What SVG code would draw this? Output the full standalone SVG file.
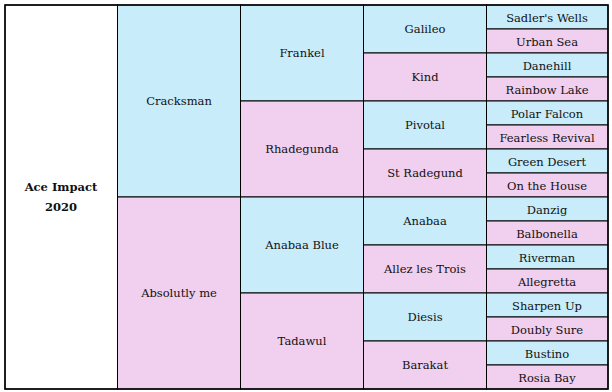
<svg xmlns="http://www.w3.org/2000/svg" width="612" height="392" viewBox="0 0 612 392">
<style>
.b{fill:#C8ECFA;stroke:#000;stroke-width:1}
.p{fill:#F1CFEF;stroke:#000;stroke-width:1}
.w{fill:#fff;stroke:#000;stroke-width:1}
text{font-family:"DejaVu Serif","Liberation Serif",serif;font-size:11.5px;fill:#111;text-anchor:middle}
.bold{font-weight:bold}
</style>
<rect x="0" y="0" width="612" height="392" fill="#fff"/>
<g id="n0"><rect class="w" x="5" y="5" width="112.5" height="384"/><text class="bold" x="61" y="191">Ace Impact</text><text class="bold" x="61" y="211">2020</text></g>
<g id="n1"><rect class="b" x="117.5" y="5" width="123" height="192"/><text x="179" y="105">Cracksman</text></g>
<g id="n2"><rect class="p" x="117.5" y="197" width="123" height="192"/><text x="179" y="297">Absolutly me</text></g>
<g id="n3"><rect class="b" x="240.5" y="5" width="123" height="96"/><text x="302" y="57">Frankel</text></g>
<g id="n4"><rect class="p" x="240.5" y="101" width="123" height="96"/><text x="302" y="153">Rhadegunda</text></g>
<g id="n5"><rect class="b" x="240.5" y="197" width="123" height="96"/><text x="302" y="249">Anabaa Blue</text></g>
<g id="n6"><rect class="p" x="240.5" y="293" width="123" height="96"/><text x="302" y="345">Tadawul</text></g>
<g id="n7"><rect class="b" x="363.5" y="5" width="123" height="48"/><text x="425" y="33">Galileo</text></g>
<g id="n8"><rect class="p" x="363.5" y="53" width="123" height="48"/><text x="425" y="81">Kind</text></g>
<g id="n9"><rect class="b" x="363.5" y="101" width="123" height="48"/><text x="425" y="129">Pivotal</text></g>
<g id="n10"><rect class="p" x="363.5" y="149" width="123" height="48"/><text x="425" y="177">St Radegund</text></g>
<g id="n11"><rect class="b" x="363.5" y="197" width="123" height="48"/><text x="425" y="225">Anabaa</text></g>
<g id="n12"><rect class="p" x="363.5" y="245" width="123" height="48"/><text x="425" y="273">Allez les Trois</text></g>
<g id="n13"><rect class="b" x="363.5" y="293" width="123" height="48"/><text x="425" y="321">Diesis</text></g>
<g id="n14"><rect class="p" x="363.5" y="341" width="123" height="48"/><text x="425" y="369">Barakat</text></g>
<g id="n15"><rect class="b" x="486.5" y="5" width="121.5" height="24"/><text x="547" y="21.5">Sadler's Wells</text></g>
<g id="n16"><rect class="p" x="486.5" y="29" width="121.5" height="24"/><text x="547" y="45.5">Urban Sea</text></g>
<g id="n17"><rect class="b" x="486.5" y="53" width="121.5" height="24"/><text x="547" y="69.5">Danehill</text></g>
<g id="n18"><rect class="p" x="486.5" y="77" width="121.5" height="24"/><text x="547" y="93.5">Rainbow Lake</text></g>
<g id="n19"><rect class="b" x="486.5" y="101" width="121.5" height="24"/><text x="547" y="117.5">Polar Falcon</text></g>
<g id="n20"><rect class="p" x="486.5" y="125" width="121.5" height="24"/><text x="547" y="141.5">Fearless Revival</text></g>
<g id="n21"><rect class="b" x="486.5" y="149" width="121.5" height="24"/><text x="547" y="165.5">Green Desert</text></g>
<g id="n22"><rect class="p" x="486.5" y="173" width="121.5" height="24"/><text x="547" y="189.5">On the House</text></g>
<g id="n23"><rect class="b" x="486.5" y="197" width="121.5" height="24"/><text x="547" y="213.5">Danzig</text></g>
<g id="n24"><rect class="p" x="486.5" y="221" width="121.5" height="24"/><text x="547" y="237.5">Balbonella</text></g>
<g id="n25"><rect class="b" x="486.5" y="245" width="121.5" height="24"/><text x="547" y="261.5">Riverman</text></g>
<g id="n26"><rect class="p" x="486.5" y="269" width="121.5" height="24"/><text x="547" y="285.5">Allegretta</text></g>
<g id="n27"><rect class="b" x="486.5" y="293" width="121.5" height="24"/><text x="547" y="309.5">Sharpen Up</text></g>
<g id="n28"><rect class="p" x="486.5" y="317" width="121.5" height="24"/><text x="547" y="333.5">Doubly Sure</text></g>
<g id="n29"><rect class="b" x="486.5" y="341" width="121.5" height="24"/><text x="547" y="357.5">Bustino</text></g>
<g id="n30"><rect class="p" x="486.5" y="365" width="121.5" height="24"/><text x="547" y="381.5">Rosia Bay</text></g>
<g id="connectors"><rect x="5" y="5" width="603" height="384" fill="none" stroke="#000" stroke-width="1.5"/></g>
</svg>
